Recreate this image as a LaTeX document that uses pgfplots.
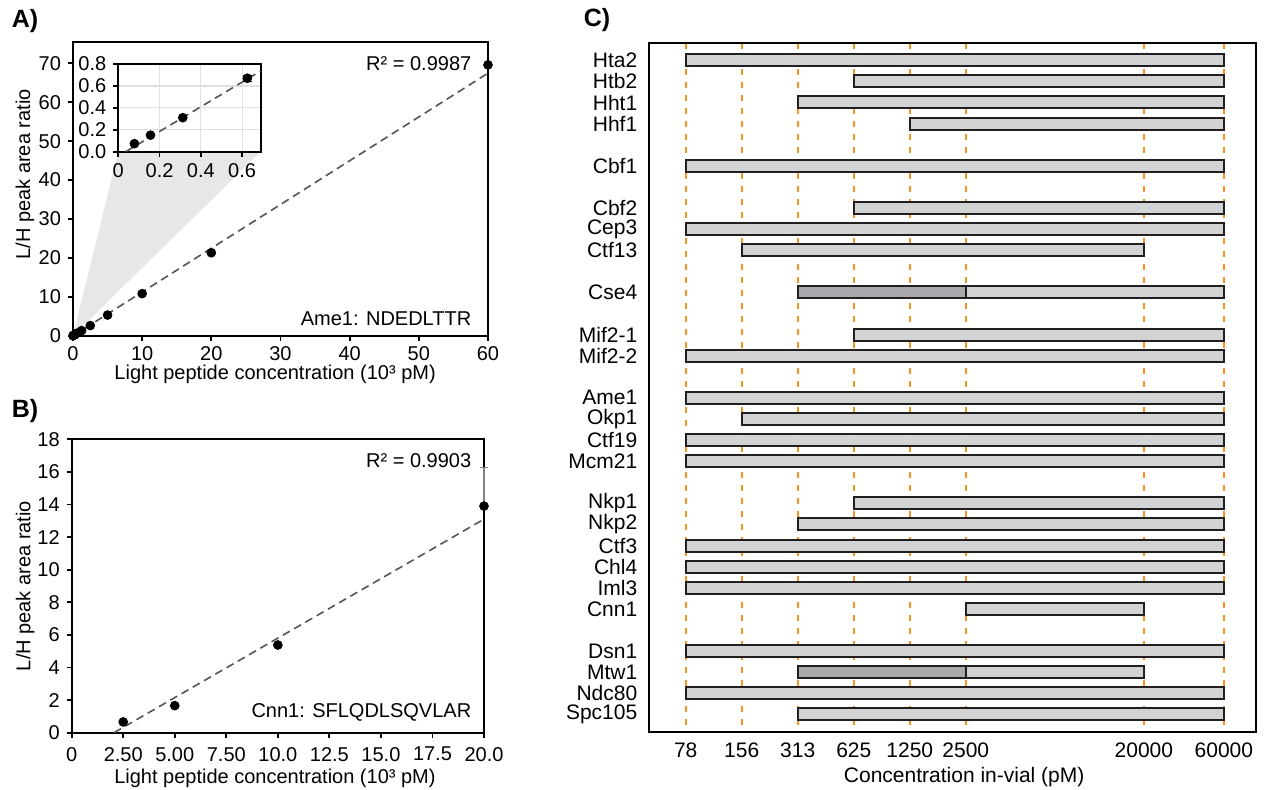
\documentclass[border=0pt]{standalone}
\usepackage{fontspec}
\setmainfont{Liberation Sans}
\usepackage{pgfplots}
\pgfplotsset{compat=1.18}
\usepackage{pgfplotstable}
\definecolor{barlight}{HTML}{D1D3D4}
\definecolor{bardark}{HTML}{A7A9AC}
\definecolor{baredge}{HTML}{231F20}
\definecolor{vline}{HTML}{F7941D}
\definecolor{fitgray}{HTML}{555555}
\definecolor{shadegray}{HTML}{E6E7E8}

\pgfplotstableread{
row start dark light
0 0 0 9.607
1 3 0 6.607
2 2 0 7.607
3 4 0 5.607
5 0 0 9.607
7 3 0 6.607
8 0 0 9.607
9 1 0 7.179
11 2 3 4.607
13 3 0 6.607
14 0 0 9.607
16 0 0 9.607
17 1 0 8.607
18 0 0 9.607
19 0 0 9.607
21 3 0 6.607
22 2 0 7.607
23 0 0 9.607
24 0 0 9.607
25 0 0 9.607
26 5 0 3.179
28 0 0 9.607
29 2 3 3.179
30 0 0 9.607
31 2 0 7.607
}\barsdata

\newcommand{\txt}{\fontsize{10}{12}\selectfont}
\newcommand{\ctxt}{\fontsize{10.5}{12.6}\selectfont}

\begin{document}
\begin{tikzpicture}
\useasboundingbox (0pt,0pt) rectangle (634.5pt,395pt);
\pgfplotsset{
  panel/.style={
    scale only axis, anchor=south west, clip=false,
    axis line style={line width=1pt},
    every tick/.style={black, line width=0.9pt},
    tick align=outside,
    major tick length=2.5pt,
    xtick pos=left, ytick pos=left,
    tick label style={font=\txt},
    label style={font=\txt},
    /pgf/number format/assume math mode=true,
  },
  fit/.style={fitgray, line width=0.8pt, dash pattern=on 4pt off 2.5pt},
  pts/.style={only marks, mark=*, mark size=2.2pt, black},
}

% ---------- Panel A ----------
\begin{axis}[panel, name=A, at={(36.5pt,227.15pt)}, width=207.5pt, height=146.7pt,
  xmin=0, xmax=60, ymin=0, ymax=75.4,
  xtick={0,10,20,30,40,50,60}, ytick={0,10,20,30,40,50,60,70},
  xticklabel style={yshift=0.5pt},
  xlabel={Light peptide concentration (10³ pM)},
  ylabel={L/H peak area ratio},
  xlabel style={at={(axis description cs:0.487,-0.132)}, anchor=center},
  ylabel style={at={(axis description cs:-0.1157,0.55)}, anchor=center},
]
\fill[shadegray] (axis cs:0,0) -- (axis cs:6.55,47.3) -- (axis cs:27.14,47.3) -- cycle;
\addplot[fit] coordinates {(0.036,0) (60,67.46)};
\addplot[pts] coordinates {(0,0) (0.078,0.07) (0.156,0.15) (0.3125,0.31) (0.625,0.67) (1.25,1.3) (2.5,2.6) (5,5.3) (10,10.8) (20,21.3) (60,69.6)};
\node[anchor=east, inner sep=0pt, font=\txt] at (axis cs:57.64,70) {R² = 0.9987};
\node[anchor=east, inner sep=0pt, font=\txt] at (axis cs:57.64,4.47) {Ame1: NDEDLTTR};
\end{axis}

% ---------- Inset ----------
\begin{axis}[panel, name=inset, at={(59.15pt,319.15pt)}, width=71.2pt, height=43.85pt,
  xmin=0, xmax=0.69, ymin=0, ymax=0.8,
  xtick={0,0.2,0.4,0.6}, xticklabels={0,0.2,0.4,0.6},
  ytick={0,0.2,0.4,0.6,0.8}, yticklabels={0.0,0.2,0.4,0.6,0.8},
  grid=major, grid style={black!12, line width=0.6pt},
  axis background/.style={fill=white},
]
\addplot[fit] coordinates {(0.036,0) (0.69,0.736)};
\addplot[pts, error bars/.cd, y dir=both, y explicit, error bar style={black, line width=0.6pt}]
  coordinates {(0.078,0.073) +- (0,0) (0.156,0.151) +- (0,0) (0.3125,0.31) +- (0,0) (0.625,0.67) +- (0,0.03)};
\end{axis}

% ---------- Panel B ----------
\begin{axis}[panel, at={(35.85pt,28.65pt)}, width=206.15pt, height=146.7pt,
  xmin=0, xmax=20, ymin=0, ymax=18,
  xtick={0,2.5,5,7.5,10,12.5,15,17.5,20},
  xticklabels={0,2.50,5.00,7.50,10.0,12.5,15.0,17.5,20.0},
  ytick={0,2,4,6,8,10,12,14,16,18},
  xticklabel style={yshift=-1.2pt},
  xlabel={Light peptide concentration (10³ pM)},
  ylabel={L/H peak area ratio},
  xlabel style={at={(axis description cs:0.493,-0.155)}, anchor=center},
  ylabel style={at={(axis description cs:-0.113,0.5)}, anchor=center},
]
\addplot[fit] coordinates {(2.05,0) (20,13.1)};
\addplot[pts, error bars/.cd, y dir=plus, y explicit, error bar style={gray, line width=0.6pt}]
  coordinates {(2.5,0.66) +- (0,0) (5,1.66) +- (0,0) (10,5.38) +- (0,0) (20,13.9) +- (0,2.4)};
\node[anchor=east, inner sep=0pt, font=\txt] at (axis cs:19.4,16.69) {R² = 0.9903};
\node[anchor=east, inner sep=0pt, font=\txt] at (axis cs:19.4,1.23) {Cnn1: SFLQDLSQVLAR};
\end{axis}

% ---------- Panel C ----------
\begin{axis}[panel, at={(324.65pt,28.85pt)}, width=303.35pt, height=344.8pt,
  xmin=-0.65, xmax=10.18, ymin=-0.834, ymax=31.85, y dir=reverse,
  xbar stacked, bar width=6pt,
  major tick length=0pt,
  tick label style={font=\ctxt}, label style={font=\ctxt},
  xtick={0,1,2,3,4,5,8.179,9.607},
  xticklabels={78,156,313,625,1250,2500,20000,60000},
  ytick={0,1,2,3,5,7,8,9,11,13,14,16,17,18,19,21,22,23,24,25,26,28,29,30,31},
  yticklabels={Hta2,Htb2,Hht1,Hhf1,Cbf1,Cbf2,Cep3,Ctf13,Cse4,Mif2-1,Mif2-2,Ame1,Okp1,Ctf19,Mcm21,Nkp1,Nkp2,Ctf3,Chl4,Iml3,Cnn1,Dsn1,Mtw1,Ndc80,Spc105},
  xmajorgrids=true,
  grid style={vline, line width=1pt, dash pattern=on 3pt off 3.5pt},
  xticklabel style={yshift=-1.5pt},
  yticklabel style={xshift=-2.5pt},
  xlabel={Concentration in-vial (pM)},
  xlabel style={at={(axis description cs:0.519,-0.0644)}, anchor=center},
]
\addplot[draw=none, fill=none] table[x=start, y=row] {\barsdata};
\addplot[fill=bardark, draw=baredge, line width=1pt] table[x=dark, y=row] {\barsdata};
\addplot[fill=barlight, draw=baredge, line width=1pt] table[x=light, y=row] {\barsdata};
\end{axis}

% ---------- Panel letters ----------
\node[font=\bfseries\fontsize{12.5}{15}\selectfont] at (12.5pt,384.5pt) {A)};
\node[font=\bfseries\fontsize{12.5}{15}\selectfont] at (12.5pt,189.5pt) {B)};
\node[font=\bfseries\fontsize{12.5}{15}\selectfont] at (298.5pt,385pt) {C)};
\end{tikzpicture}
\end{document}
